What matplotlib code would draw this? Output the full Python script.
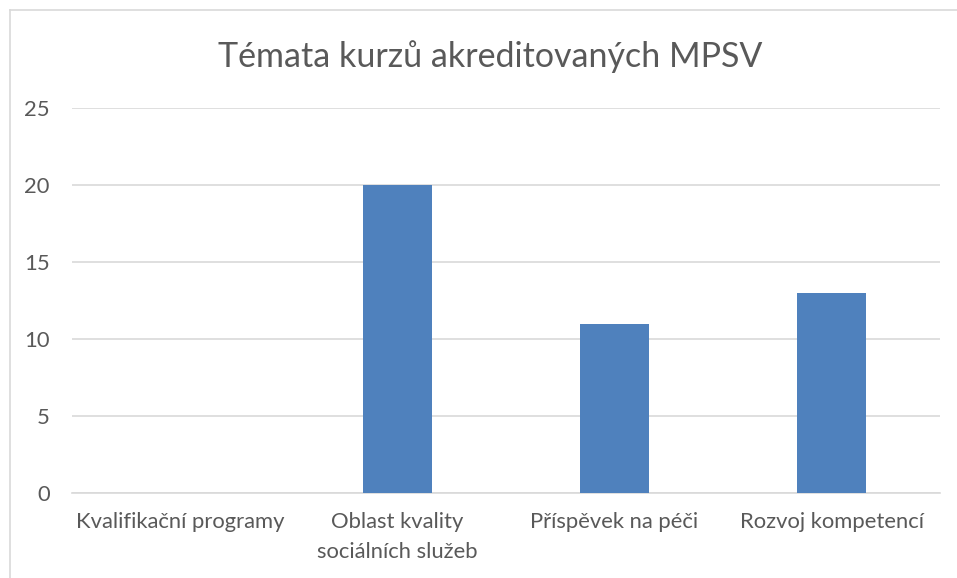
import matplotlib
matplotlib.use("Agg")
import matplotlib.pyplot as plt
from matplotlib.lines import Line2D

categories = ["Kvalifikační programy", "Oblast kvality\nsociálních služeb", "Příspěvek na péči", "Rozvoj kompetencí"]
values = [0, 20, 11, 13]
yticks = [0, 5, 10, 15, 20, 25]
title = "Témata kurzů akreditovaných MPSV"

plt.rcParams['font.family'] = ['Lato', 'DejaVu Sans']
W, H = 957, 578
fig = plt.figure(figsize=(W / 100, H / 100), dpi=100)
ax = fig.add_axes([72 / W, 1 - 493 / H, (940 - 72) / W, (493 - 108) / H])

x = list(range(len(categories)))
ax.bar(x, values, width=0.318, color="#4F81BD", zorder=3)
ax.set_xlim(-0.5, len(categories) - 0.5)
ax.set_ylim(0, 25)
ax.set_yticks(yticks)
ax.set_xticks(x)
ax.set_xticklabels(categories, fontsize=15.8, color="#595959", linespacing=1.6)
ax.tick_params(axis='y', labelsize=15.8, labelcolor="#595959", length=0, pad=16)
ax.tick_params(axis='x', length=0, pad=14)
ax.grid(axis='y', color="#D9D9D9", linewidth=1.2, zorder=0)
for s in ["top", "right", "left"]:
    ax.spines[s].set_visible(False)
ax.spines["bottom"].set_color("#D9D9D9")
ax.spines["bottom"].set_linewidth(1.2)

fig.text(490 / W, 1 - 57 / H, title, ha="center", va="center", fontsize=24.5, color="#595959")

# outer chart border (left and top edges visible)
fig.add_artist(Line2D([9.5 / W, 9.5 / W], [0, 1 - 9.5 / H], transform=fig.transFigure, color="#D9D9D9", lw=1.2))
fig.add_artist(Line2D([9.5 / W, 1], [1 - 9.5 / H, 1 - 9.5 / H], transform=fig.transFigure, color="#D9D9D9", lw=1.2))

fig.savefig("out.png", dpi=100)
